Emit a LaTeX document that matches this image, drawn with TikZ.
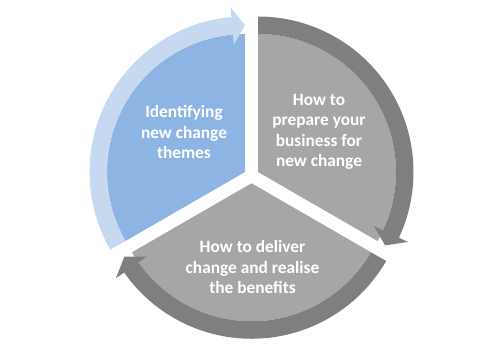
\documentclass[tikz,border=0pt]{standalone}
\usepackage{fontspec}
\setmainfont{Carlito}
\definecolor{bluefill}{HTML}{8EB4E3}
\definecolor{blueband}{HTML}{C6D9F1}
\definecolor{grayfill}{HTML}{A6A6A6}
\definecolor{grayband}{HTML}{7F7F7F}
\newcommand\cycsegment[4]{%
  \begin{scope}[shift={#1}]
    \fill[#3] (0,0) -- ({#2}:138) arc[start angle={#2}, end angle={#2-120}, radius=138] -- cycle;
    \fill[#4] ({#2}:155.5) arc[start angle={#2}, end angle={#2-115}, radius=155.5]
      -- ({#2-115}:165.5) -- ({#2-120}:146.75) -- ({#2-115}:128) -- ({#2-115}:138)
      arc[start angle={#2-115}, end angle={#2}, radius=138] -- cycle;
  \end{scope}}
\begin{document}
\begin{tikzpicture}[x=0.75pt,y=0.75pt,
  txt/.style={text=white, align=center, font=\bfseries\fontsize{13}{15.4}\selectfont, inner sep=0pt}]
  \useasboundingbox (-251.5,-182.25) rectangle (250.5,175.75);
  \cycsegment{(-6.5,3.75)}{210}{bluefill}{blueband}
  \cycsegment{(6.5,3.75)}{90}{grayfill}{grayband}
  \cycsegment{(0,-7.5)}{-30}{grayfill}{grayband}
  \node[txt] (blue) at (-67.5,43.75) {Identifying\\new change\\themes};
  \node[txt] (prep) at (67.5,43.75) {How to\\prepare your\\business for\\new change};
  \node[txt] (deliv) at (1,-91.25) {How to deliver\\change and realise\\the benefits};
\end{tikzpicture}
\end{document}
